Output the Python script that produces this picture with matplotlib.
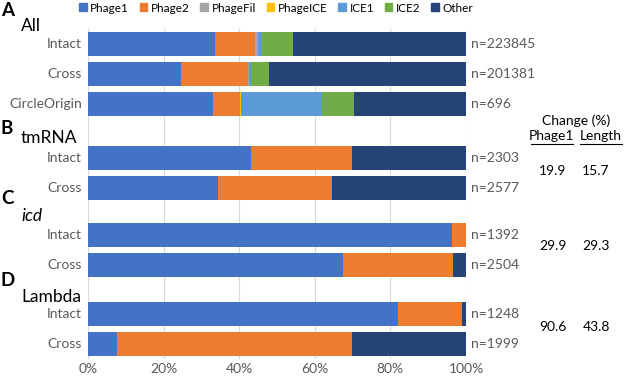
import matplotlib
matplotlib.use("Agg")
import matplotlib.pyplot as plt
from matplotlib.lines import Line2D
import numpy as np

plt.rcParams['font.family'] = ['Lato', 'DejaVu Sans']

series = ["Phage1", "Phage2", "PhageFil", "PhageICE", "ICE1", "ICE2", "Other"]
colors = ["#4472C4", "#ED7D31", "#A5A5A5", "#FFC000", "#5B9BD5", "#70AD47", "#264478"]

groups = ["All", "tmRNA", "icd", "Lambda"]
panel_letters = ["A", "B", "C", "D"]
row_labels = [["Intact", "Cross", "CircleOrigin"], ["Intact", "Cross"], ["Intact", "Cross"], ["Intact", "Cross"]]
counts = [["n=223845", "n=201381", "n=696"], ["n=2303", "n=2577"], ["n=1392", "n=2504"], ["n=1248", "n=1999"]]

# percentages per row: Phage1, Phage2, PhageFil, PhageICE, ICE1, ICE2, Other
values = [
    [[33.6, 10.6, 0.7, 0.1, 0.8, 8.4, 45.8],
     [24.6, 17.6, 0.5, 0.0, 0.3, 5.0, 52.0],
     [33.2, 7.0, 0.0, 0.3, 21.5, 8.4, 29.6]],
    [[43.0, 26.9, 0.0, 0.0, 0.0, 0.0, 30.1],
     [34.5, 30.1, 0.0, 0.0, 0.0, 0.0, 35.4]],
    [[96.2, 3.8, 0.0, 0.0, 0.0, 0.0, 0.0],
     [67.4, 29.2, 0.0, 0.0, 0.0, 0.0, 3.4]],
    [[82.1, 16.9, 0.0, 0.0, 0.0, 0.0, 1.0],
     [7.7, 62.1, 0.0, 0.0, 0.0, 0.0, 30.2]],
]
change_phage1 = ["19.9", "29.9", "90.6"]
change_length = ["15.7", "29.3", "43.8"]
xticks = [0, 20, 40, 60, 80, 100]

W, H = 625, 376
fig = plt.figure(figsize=(W / 100, H / 100), dpi=100)

def fx(x):
    return x / W

def fy(y):
    return 1 - y / H

ax_top, ax_bot = 29, 359
ax = fig.add_axes([fx(88), fy(ax_bot), fx(466) - fx(88), (ax_bot - ax_top) / H])
ax.set_xlim(0, 100)
ax.set_ylim(ax_bot, ax_top)

# layout: y (pixel) of first row in each group, row spacing
group_start = [44, 158, 235, 314]
row_step = 30
bar_h = 24
group_title_y = [26, 138, 216, 297]
letter_y = [11, 128, 199, 281]

for g, gname in enumerate(groups):
    for r, rl in enumerate(row_labels[g]):
        yc = group_start[g] + r * row_step
        left = 0.0
        for s, v in enumerate(values[g][r]):
            if v > 0:
                ax.barh(yc, v, left=left, height=bar_h, color=colors[s], edgecolor='none', zorder=2)
            left += v
        fig.text(fx(82), fy(yc), rl, ha='right', va='center', fontsize=10, color='#595959')
        fig.text(fx(471), fy(yc), counts[g][r], ha='left', va='center', fontsize=10, color='#595959')
    fig.text(fx(21), fy(group_title_y[g]), gname, ha='left', va='center', fontsize=12.5,
             color='black', style='italic' if gname == 'icd' else 'normal')
    fig.text(fx(1), fy(letter_y[g]), panel_letters[g], ha='left', va='center', fontsize=13.5,
             fontweight='bold', color='black')

ax.set_xticks(xticks)
ax.set_xticklabels([f"{t}%" for t in xticks], fontsize=10, color='#595959')
ax.set_yticks([])
ax.tick_params(axis='x', length=0, pad=3)
ax.grid(axis='x', color='#D9D9D9', linewidth=0.8, zorder=0)
ax.set_axisbelow(True)
for sp in ax.spines.values():
    sp.set_visible(False)

# legend
handles = [plt.Rectangle((0, 0), 1, 1, color=c) for c in colors]
fig.legend(handles, series, loc='center', bbox_to_anchor=(fx(276), fy(8)), ncol=7,
           frameon=False, fontsize=8.5, handlelength=0.65, handleheight=0.65,
           handletextpad=0.3, columnspacing=0.9, borderaxespad=0, borderpad=0)

# change table
fig.text(fx(576), fy(121), "Change (%)", ha='center', va='center', fontsize=10, color='black')
for cx, lab in [(552, "Phage1"), (601, "Length")]:
    fig.text(fx(cx), fy(136), lab, ha='center', va='center', fontsize=10, color='black')
    fig.add_artist(Line2D([fx(cx - 21), fx(cx + 21)], [fy(144), fy(144)], color='black', linewidth=0.8))
change_y = [171, 246, 327]
for i in range(3):
    fig.text(fx(553), fy(change_y[i]), change_phage1[i], ha='center', va='center', fontsize=10)
    fig.text(fx(596), fy(change_y[i]), change_length[i], ha='center', va='center', fontsize=10)

fig.savefig("out.png", dpi=100)
